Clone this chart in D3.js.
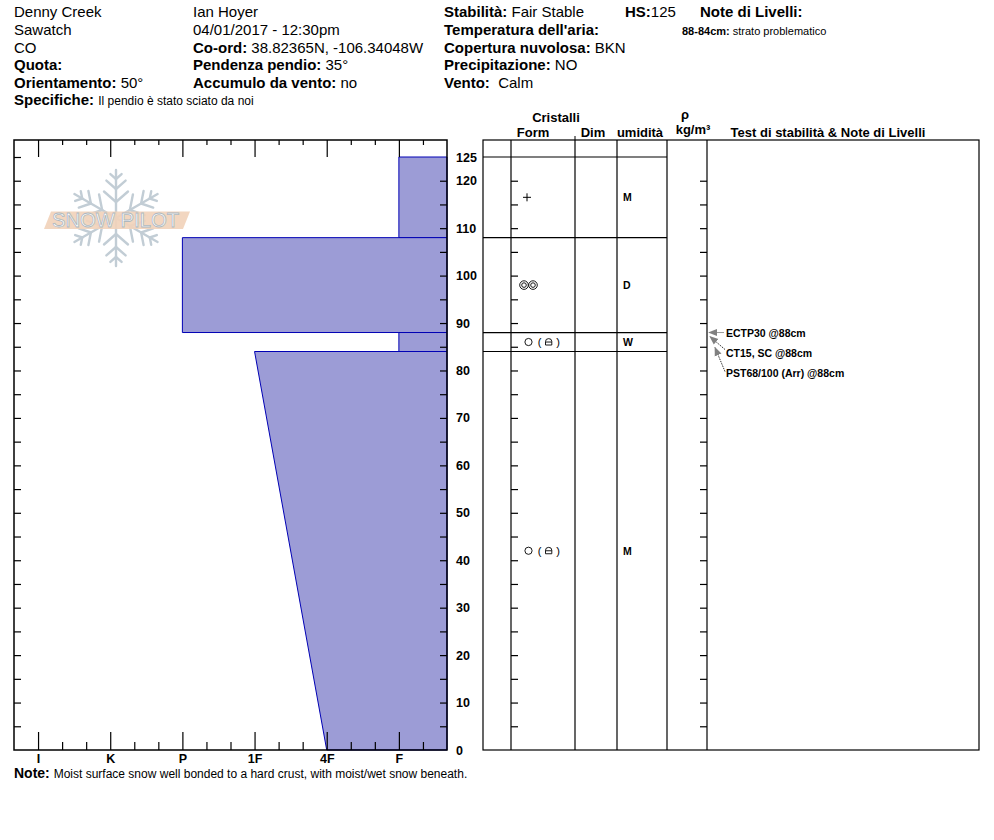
<!DOCTYPE html>
<html>
<head>
<meta charset="utf-8">
<script src="https://cdn.jsdelivr.net/npm/d3@7"></script>
<style>
body { margin: 0; background: #fff; }
svg { font-family: "Liberation Sans", Arial, sans-serif; }
svg text { white-space: pre; }
.b { font-weight: bold; }
.axis path.domain { display: none; }
.axis line { stroke: #000; stroke-width: 1.2; }
.axis text { fill: #000; font-family: "Liberation Sans", Arial, sans-serif; font-weight: bold; }
</style>
</head>
<body>
<svg id="chart" width="994" height="840"></svg>
<script>
// ---- data ----
var layerTop    = [125, 108, 88, 84];
var layerBottom = [108, 88, 84, 0];
var hardTop     = ["F", "P", "F", "1F"];
var hardBottom  = ["F", "P", "F", "4F"];
var grainForm   = ["PP", "MFcl", "RG", "RG"];
var grainSub    = ["", "", "FCxr", "FCxr"];
var moisture    = ["M", "D", "W", "M"];

var hardness    = ["I", "K", "P", "1F", "4F", "F"];
var depthLabels = [0, 10, 20, 30, 40, 50, 60, 70, 80, 90, 100, 110, 120, 125];

var testName  = ["ECTP30", "CT15, SC", "PST68/100 (Arr)"];
var testDepth = [88, 88, 88];

var layerNoteRange = "88-84cm:";
var layerNoteText  = "strato problematico";

var col1 = [["", "Denny Creek"], ["", "Sawatch"], ["", "CO"], ["Quota:", ""], ["Orientamento:", "50°"]];
var col2 = [["", "Ian Hoyer"], ["", "04/01/2017 - 12:30pm"], ["Co-ord:", "38.82365N, -106.34048W"],
            ["Pendenza pendio:", "35°"], ["Accumulo da vento:", "no"]];
var col3 = [["Stabilità:", "Fair Stable"], ["Temperatura dell'aria:", ""], ["Copertura nuvolosa:", "BKN"],
            ["Precipitazione:", "NO"], ["Vento:", " Calm"]];
var specifiche = "Il pendio è stato sciato da noi";
var hs = "125";
var note = "Moist surface snow well bonded to a hard crust, with moist/wet snow beneath.";

// ---- layout ----
var svg = d3.select("#chart");
var plotL = 14, plotR = 447, plotTop = 140, plotBot = 750;
var tabL = 483, tabR = 979;
var colX = [511, 575, 617, 667, 707];

var y = d3.scaleLinear().domain([0, 125]).range([plotBot, 157]);
var x = d3.scaleLinear().domain([-1 / 3, hardness.length - 1 / 3]).range([plotL, plotR]);
function hx(h) { return x(hardness.indexOf(h)); }

// ---- header ----
var baselines = [17, 35, 52.5, 70, 88];
function infoColumn(rows, x0) {
  rows.forEach(function(r, i) {
    var t = svg.append("text").attr("x", x0).attr("y", baselines[i]).attr("font-size", 15);
    if (r[0]) t.append("tspan").attr("class", "b").text(r[0] + (r[1] ? " " : ""));
    if (r[1]) t.append("tspan").text(r[1]);
  });
}
infoColumn(col1, 14);
infoColumn(col2, 193);
infoColumn(col3, 444);

var hsT = svg.append("text").attr("x", 625).attr("y", 17).attr("font-size", 15);
hsT.append("tspan").attr("class", "b").text("HS:");
hsT.append("tspan").text(hs);
svg.append("text").attr("class", "b").attr("x", 700).attr("y", 17).attr("font-size", 15).text("Note di Livelli:");
var ln = svg.append("text").attr("x", 682).attr("y", 35).attr("font-size", 11);
ln.append("tspan").attr("class", "b").text(layerNoteRange + " ");
ln.append("tspan").text(layerNoteText);

var sp = svg.append("text").attr("x", 14).attr("y", 105);
sp.append("tspan").attr("class", "b").attr("font-size", 15).text("Specifiche: ");
sp.append("tspan").attr("font-size", 12).text(specifiche);

// ---- logo (watermark) ----
var logo = svg.append("g").attr("transform", "translate(116,218)");
var flake = logo.append("g").attr("stroke", "#c2cdd5").attr("stroke-width", 2.4).attr("stroke-linecap", "round");
for (var k = 0; k < 6; k++) {
  var arm = flake.append("g").attr("transform", "rotate(" + (k * 60) + ")");
  arm.append("line").attr("x1", 0).attr("y1", 0).attr("x2", 0).attr("y2", -48);
  [[-16, 15], [-29, 12], [-39, 7]].forEach(function(b) {
    arm.append("line").attr("x1", 0).attr("y1", b[0]).attr("x2", -b[1] * 0.8).attr("y2", b[0] - b[1] * 0.7);
    arm.append("line").attr("x1", 0).attr("y1", b[0]).attr("x2", b[1] * 0.8).attr("y2", b[0] - b[1] * 0.7);
  });
}
logo.append("path").attr("d", "M-72,11 L-65,-6.5 L74,-6.5 L67,11 Z").attr("fill", "#f1d2bb").attr("opacity", 0.92);
logo.append("text").attr("x", -64).attr("y", 9).attr("font-size", 20).attr("textLength", 127)
  .attr("lengthAdjust", "spacingAndGlyphs").attr("fill", "#fff").attr("stroke", "#aeb8bf").attr("stroke-width", 0.8)
  .text("SNOW PILOT");

// ---- hardness profile ----
svg.append("g").selectAll("polygon").data(layerTop).join("polygon")
  .attr("points", function(d, i) {
    return [[hx(hardTop[i]), y(layerTop[i])], [plotR, y(layerTop[i])],
            [plotR, y(layerBottom[i])], [hx(hardBottom[i]), y(layerBottom[i])]].join(" ");
  })
  .attr("fill", "#9c9cd6").attr("stroke", "#0000b4").attr("stroke-width", 1);

svg.append("rect").attr("x", plotL).attr("y", plotTop).attr("width", plotR - plotL).attr("height", plotBot - plotTop)
  .attr("fill", "none").attr("stroke", "#000").attr("stroke-width", 1.5);

// hardness ticks, top and bottom
var majors = d3.range(hardness.length);
var minors = [];
majors.forEach(function(i) { minors.push(i + 1 / 3); if (i < hardness.length - 1) minors.push(i + 2 / 3); });

svg.append("g").attr("class", "axis").attr("transform", "translate(0," + plotBot + ")")
  .call(d3.axisTop(x).tickValues(majors).tickSize(18).tickFormat(""));
svg.append("g").attr("class", "axis").attr("transform", "translate(0," + plotBot + ")")
  .call(d3.axisTop(x).tickValues(minors).tickSize(8).tickFormat(""));
svg.append("g").attr("class", "axis").attr("transform", "translate(0," + plotTop + ")")
  .call(d3.axisBottom(x).tickValues(majors).tickSize(17).tickFormat(""));
svg.append("g").attr("class", "axis").attr("transform", "translate(0," + plotTop + ")")
  .call(d3.axisBottom(x).tickValues(minors).tickSize(5).tickFormat(""));
svg.append("g").attr("class", "axis").attr("transform", "translate(0," + plotBot + ")")
  .call(d3.axisBottom(x).tickValues(majors).tickSize(0).tickPadding(4).tickFormat(function(i) { return hardness[i]; }))
  .selectAll("text").attr("font-size", 12.5);

// depth ticks and labels
svg.append("g").attr("class", "axis").attr("transform", "translate(" + plotL + ",0)")
  .call(d3.axisRight(y).tickValues(d3.range(5, 126, 5)).tickSize(7).tickFormat(""));
svg.append("g").attr("class", "axis").attr("transform", "translate(" + plotR + ",0)")
  .call(d3.axisLeft(y).tickValues(d3.range(5, 121, 5)).tickSize(7).tickFormat(""));
svg.append("g").attr("class", "axis").attr("transform", "translate(" + plotR + ",0)")
  .call(d3.axisRight(y).tickValues(depthLabels).tickSize(0).tickPadding(9))
  .selectAll("text").attr("font-size", 12.5);

// ---- crystal table ----
svg.append("rect").attr("x", tabL).attr("y", plotTop).attr("width", tabR - tabL).attr("height", plotBot - plotTop)
  .attr("fill", "none").attr("stroke", "#000").attr("stroke-width", 1.2);
svg.append("g").selectAll("line").data(colX).join("line")
  .attr("x1", function(d) { return d; }).attr("x2", function(d) { return d; })
  .attr("y1", plotTop).attr("y2", plotBot).attr("stroke", "#000").attr("stroke-width", 1.2);
svg.append("line").attr("x1", 575).attr("x2", 575).attr("y1", 136).attr("y2", plotTop).attr("stroke", "#000");

svg.append("g").selectAll("line").data(layerTop).join("line")
  .attr("x1", tabL).attr("x2", colX[3])
  .attr("y1", function(d) { return y(d); }).attr("y2", function(d) { return y(d); })
  .attr("stroke", "#000").attr("stroke-width", 1.2);

svg.append("g").attr("class", "axis").attr("transform", "translate(" + colX[0] + ",0)")
  .call(d3.axisRight(y).tickValues(d3.range(5, 121, 5)).tickSize(7).tickFormat(""));
svg.append("g").attr("class", "axis").attr("transform", "translate(" + colX[4] + ",0)")
  .call(d3.axisLeft(y).tickValues(d3.range(5, 121, 5)).tickSize(7).tickFormat(""));

// headers
var hdr = [["Cristalli", 556, 122], ["Form", 533, 137], ["Dim", 593, 137], ["umidità", 640, 137],
           ["ρ", 685, 119], ["kg/m³", 693, 134], ["Test di stabilità & Note di Livelli", 828, 137]];
svg.append("g").selectAll("text").data(hdr).join("text")
  .attr("class", "b").attr("font-size", 13).attr("text-anchor", "middle")
  .attr("x", function(d) { return d[1]; }).attr("y", function(d) { return d[2]; })
  .text(function(d) { return d[0]; });

// grain symbols
function drawGrain(g, code) {
  if (code === "PP") {
    g.append("path").attr("d", "M-4,0 L4,0 M0,-4 L0,4").attr("stroke", "#000").attr("stroke-width", 1);
  } else if (code === "MFcl") {
    [-3, 6].forEach(function(dx) {
      g.append("circle").attr("cx", dx).attr("cy", 0).attr("r", 4.3).attr("fill", "none").attr("stroke", "#000").attr("stroke-width", 0.9);
      g.append("circle").attr("cx", dx).attr("cy", 0).attr("r", 2.3).attr("fill", "none").attr("stroke", "#000").attr("stroke-width", 0.9);
    });
  } else if (code === "RG") {
    g.append("circle").attr("cx", 1.5).attr("cy", 0).attr("r", 3.6).attr("fill", "none").attr("stroke", "#000").attr("stroke-width", 0.9);
  }
}
function drawSub(g, code) {
  if (code !== "FCxr") return;
  g.append("text").attr("x", 12.5).attr("y", 3.8).attr("font-size", 11).attr("text-anchor", "middle").text("(");
  g.append("text").attr("x", 31).attr("y", 3.8).attr("font-size", 11).attr("text-anchor", "middle").text(")");
  g.append("path").attr("d", "M18.5,3 L18.5,-0.5 Q18.5,-3.4 21.7,-3.4 Q24.8,-3.4 24.8,-0.5 L24.8,3 Z M18.5,0 L24.8,0")
    .attr("fill", "none").attr("stroke", "#000").attr("stroke-width", 0.9);
}
layerTop.forEach(function(t, i) {
  var cy = (y(layerTop[i]) + y(layerBottom[i])) / 2;
  var g = svg.append("g").attr("transform", "translate(527," + cy + ")");
  drawGrain(g, grainForm[i]);
  drawSub(g, grainSub[i]);
  svg.append("text").attr("class", "b").attr("font-size", 10.5).attr("x", 623).attr("y", cy + 3.8).text(moisture[i]);
});

// ---- stability tests ----
svg.append("defs").append("marker").attr("id", "ah").attr("viewBox", "0 0 10 10")
  .attr("refX", 9).attr("refY", 5).attr("markerWidth", 9).attr("markerHeight", 9)
  .attr("markerUnits", "userSpaceOnUse").attr("orient", "auto")
  .append("path").attr("d", "M0,1 L10,5 L0,9 Z").attr("fill", "#808080");

var arrowHead = [[709, 0], [710, 4], [715, 15]];
var arrowTail = [[724, 0], [725, 17], [725, 39]];
testName.forEach(function(n, i) {
  var yd = y(testDepth[i]);
  svg.append("line")
    .attr("x1", arrowTail[i][0]).attr("y1", yd + arrowTail[i][1])
    .attr("x2", arrowHead[i][0]).attr("y2", yd + arrowHead[i][1])
    .attr("stroke", i === 0 ? "#808080" : "#000").attr("stroke-width", 0.8)
    .attr("stroke-dasharray", i === 0 ? null : "1.5,1")
    .attr("marker-end", "url(#ah)");
  svg.append("text").attr("class", "b").attr("font-size", 10.5)
    .attr("x", 726).attr("y", yd + 4 + i * 20).text(n + " @" + testDepth[i] + "cm");
});

// ---- note ----
var nt = svg.append("text").attr("x", 14).attr("y", 778);
nt.append("tspan").attr("class", "b").attr("font-size", 14).text("Note: ");
nt.append("tspan").attr("font-size", 12).text(note);
</script>
</body>
</html>
